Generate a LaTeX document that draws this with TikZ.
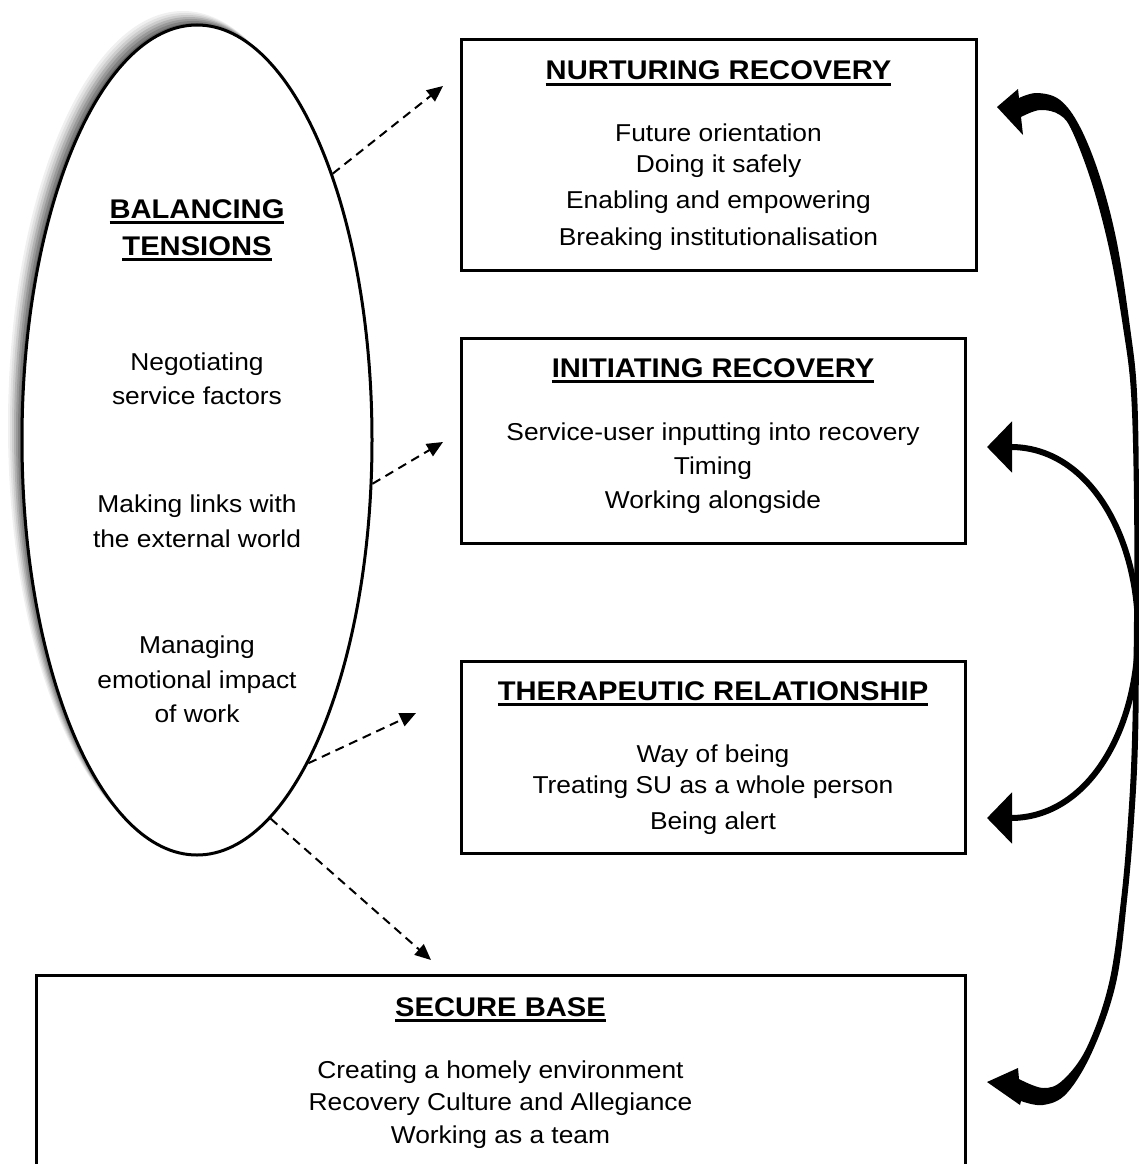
\documentclass[tikz,border=0pt]{standalone}
\usepackage{fontspec}
\setmainfont{Liberation Sans}[FakeStretch=1.08]
\usetikzlibrary{arrows.meta,shapes.geometric}

% underlined heading
\newcommand{\ultext}[1]{\sbox0{#1}\rlap{\rule[-6pt]{\wd0}{3pt}}\usebox0}

\tikzset{
  boxframe/.style={draw, rectangle, line width=3pt, inner sep=0pt},
  boxtitle/.style={anchor=base, inner sep=0pt, font=\fontsize{27}{30}\selectfont\bfseries},
  boxtext/.style={anchor=base, inner sep=0pt, font=\fontsize{24.4}{28}\selectfont},
  feeds/.style={line width=2pt, dash pattern=on 9pt off 6pt, -{Triangle[length=16pt,width=14pt]}},
  backarrow/.style={line width=6pt, {Triangle[length=25pt,width=50pt]}-{Triangle[length=25pt,width=50pt]}},
}

\begin{document}
\begin{tikzpicture}[x=1pt,y=-1pt]

  \useasboundingbox (0,0) rectangle (1138,1164);

  % balancing tensions, with its soft shadow
  \foreach \d/\g in {14/6, 12/12, 10/20, 8/30, 6/40, 4/50, 2/60}
    \fill[black!\g] (197-\d,440-\d) ellipse [x radius=175, y radius=415];
  \node[ellipse, draw, fill=white, line width=3pt, inner sep=0pt,
        minimum width=350pt, minimum height=830pt] (bal) at (197,440) {};

  \node[boxtitle] (bal-t1) at (197,218) {\ultext{BALANCING}};
  \node[boxtitle] (bal-t2) at (197,255) {\ultext{TENSIONS}};
  \foreach \t/\y [count=\i] in {Negotiating/370, service factors/404,
      Making links with/512, the external world/547,
      Managing/653, emotional impact/688, of work/722}
    \node[boxtext] (bal-\i) at (197,\y) {\t};

  % boxes
  \node[boxframe, minimum width=515pt, minimum height=230pt] (nurt) at (718.5,155) {};
  \node[boxtitle] (nurt-t) at (718.5,80) {\ultext{NURTURING RECOVERY}};
  \foreach \t/\y [count=\i] in {Future orientation/141, Doing it safely/172,
      Enabling and empowering/208, Breaking institutionalisation/245}
    \node[boxtext] (nurt-\i) at (718.5,\y) {\t};

  \node[boxframe, minimum width=504pt, minimum height=205pt] (init) at (713,440.5) {};
  \node[boxtitle] (init-t) at (713,377) {\ultext{INITIATING RECOVERY}};
  \foreach \t/\y [count=\i] in {Service-user inputting into recovery/440,
      Timing/474, Working alongside/508}
    \node[boxtext] (init-\i) at (713,\y) {\t};

  \node[boxframe, minimum width=504pt, minimum height=192pt] (ther) at (713,757) {};
  \node[boxtitle] (ther-t) at (713,700) {\ultext{THERAPEUTIC RELATIONSHIP}};
  \foreach \t/\y [count=\i] in {Way of being/762,
      Treating SU as a whole person/793, Being alert/829}
    \node[boxtext] (ther-\i) at (713,\y) {\t};

  \node[boxframe, minimum width=929pt, minimum height=230pt] (secure) at (500.5,1090) {};
  \node[boxtitle] (secure-t) at (500.5,1016) {\ultext{SECURE BASE}};
  \foreach \t/\y [count=\i] in {Creating a homely environment/1078,
      Recovery Culture and Allegiance/1110, Working as a team/1143}
    \node[boxtext] (secure-\i) at (500.5,\y) {\t};

  % dashed links out of the ellipse
  \coordinate (nurt-in)   at (443,86);
  \coordinate (init-in)   at (443,442);
  \coordinate (ther-in)   at (416,713);
  \coordinate (secure-in) at (431,960);
  \draw[feeds] (bal.63)    -- (nurt-in);
  \draw[feeds] (bal.-14)   -- (init-in);
  \draw[feeds] (bal.-71.5) -- (ther-in);
  \draw[feeds] (bal.-79.5) -- (secure-in);

  % curved arrows on the right
  \coordinate (init-back) at (987,447);
  \coordinate (ther-back) at (987,818);
  \draw[backarrow] (init-back) .. controls (1088,447) and (1138,535) .. (1138,632)
                               .. controls (1138,730) and (1088,818) .. (ther-back);

  % long tapered arrow, heads and body in one piece
  \coordinate (nurt-back)   at (997,107);
  \coordinate (secure-back) at (987,1082);
  \fill (nurt-back) -- (1018,89) -- (1019,98)
    -- plot[smooth, tension=0.6] coordinates {(1019,98) (1037,93) (1060,100)
      (1080,127) (1100,177) (1117,243) (1130,327) (1137,393) (1139,500)
      (1139,620) (1138,740) (1134,820) (1127,900) (1116,983) (1093,1050)
      (1067,1093) (1043,1105) (1021,1101)}
    -- (1020,1105) -- (secure-back) -- (1018,1068) -- (1019,1079)
    -- plot[smooth, tension=0.6] coordinates {(1019,1079) (1043,1088)
      (1063,1080) (1087,1047) (1109,983) (1121,900) (1128,820) (1132,740)
      (1134,620) (1134,500) (1131,393) (1123,327) (1110,253) (1093,187)
      (1073,133) (1060,115) (1040,110) (1021,117)}
    -- (1023,135) -- cycle;

\end{tikzpicture}
\end{document}
